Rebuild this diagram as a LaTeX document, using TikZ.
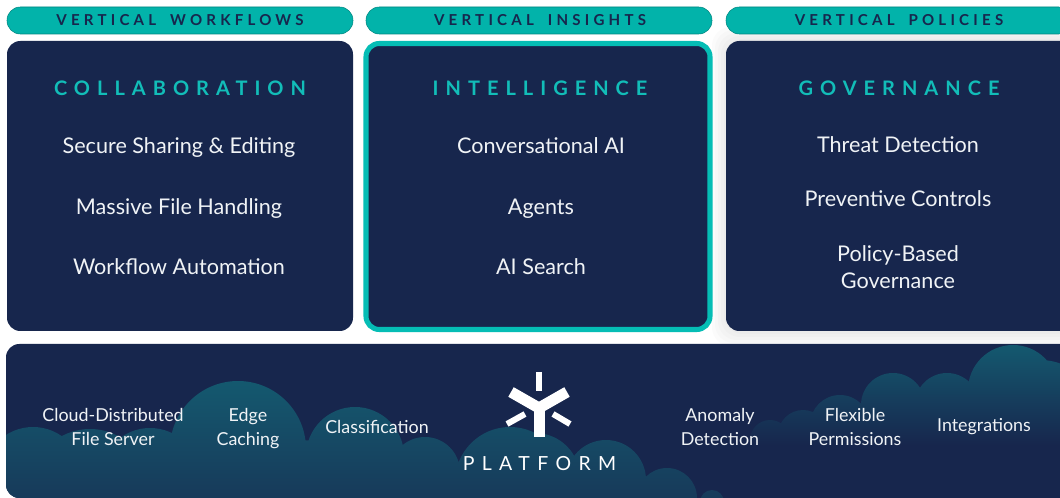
\documentclass[tikz,border=0pt]{standalone}
\usepackage{fontspec}
\setmainfont{Lato}
\definecolor{navy}{HTML}{17264D}
\definecolor{teal}{HTML}{05BDB5}
\definecolor{pill}{HTML}{02B3AA}
\definecolor{titlec}{HTML}{12BDB8}
\definecolor{cloudtop}{HTML}{14596F}
\definecolor{cloudbot}{HTML}{173A5A}
\definecolor{txt}{HTML}{F0F3F6}
\tikzset{
 pillbox/.style={fill=pill,rounded corners=10pt,draw=black!25!pill,line width=.4pt},
 panel/.style={fill=navy,rounded corners=10pt},
 pilltext/.style={text=navy,font=\fontsize{11.3pt}{12pt}\selectfont\bfseries\addfontfeature{LetterSpace=28}},
 titletext/.style={text=titlec,font=\fontsize{15pt}{18pt}\selectfont\bfseries\addfontfeature{LetterSpace=35}},
 item/.style={text=txt,align=center,font=\fontsize{16.2pt}{20.3pt}\selectfont},
 oneline/.style={item,text height=14.6pt,text depth=3.6pt},
 small/.style={text=txt,align=center,font=\fontsize{13.4pt}{18pt}\selectfont},
 logo/.style={draw=white,line cap=butt},
}
\begin{document}
\begin{tikzpicture}[x=.75pt,y=-.75pt]
\useasboundingbox (0,0) rectangle (1060,498);
\fill[white] (0,0) rectangle (1060,498);
% soft shadow
\foreach \o in {14,11,8,5,2}{
 \fill[black,opacity=.014,rounded corners=14pt] (726-\o,41-\o) rectangle (1085,332+\o);
}
\path[pillbox] (7,7) rectangle (353,34);
\path[pillbox] (366,7) rectangle (712,34);
\path[pillbox] (726,7) rectangle (1072,34);
\node[pilltext] (p1) at (180,20.5) {VERTICAL\hspace{.4em} WORKFLOWS};
\node[pilltext] (p2) at (540,20.5) {VERTICAL\hspace{.4em} INSIGHTS};
\node[pilltext] (p3) at (899,20.5) {VERTICAL\hspace{.4em} POLICIES};
\path[panel] (7,41) rectangle (353,331);
\path[panel,draw=teal,line width=3.8pt] (366,43.5) rectangle (710,329.5);
\path[panel] (726,41) rectangle (1075,331);
\node[titletext] (t1) at (180,88) {COLLABORATION};
\node[titletext] (t2) at (540,88) {INTELLIGENCE};
\node[titletext] (t3) at (899,88) {GOVERNANCE};
\node[oneline] (a1) at (179,146) {Secure Sharing \& Editing};
\node[oneline] (a2) at (179,207) {Massive File Handling};
\node[oneline] (a3) at (179,267) {Workflow Automation};
\node[oneline] (b1) at (541,146) {Conversational AI};
\node[oneline] (b2) at (541,207) {Agents};
\node[oneline] (b3) at (541,267) {AI Search};
\node[oneline] (c1) at (898,145) {Threat Detection};
\node[oneline] (c2) at (898,199) {Preventive Controls};
\node[item] (c3) at (898,267.5) {Policy-Based\\Governance};
% platform
\path[panel] (6,344) rectangle (1075,498);
\begin{scope}
\clip[rounded corners=10pt] (6,344) rectangle (1075,498);
\begin{scope}
\clip (33,477) circle[radius=50] (90,489) circle[radius=60] (150,478) circle[radius=50] (238,449) circle[radius=68] (355,456) circle[radius=49] (425,472) circle[radius=35] (510,482) circle[radius=55] (535,478) circle[radius=45] (606,480) circle[radius=40] (667,498) circle[radius=30] (712,502) circle[radius=12] (300,510) circle[radius=70] (150,520) circle[radius=80] (420,520) circle[radius=60] (560,520) circle[radius=60];
\shade[top color=cloudtop,middle color=cloudtop!92!cloudbot,bottom color=cloudbot] (0,380) rectangle (760,498);
\end{scope}
\begin{scope}
\clip (1013,390) circle[radius=45] (947,405) circle[radius=32] (893,405) circle[radius=32] (840,425) circle[radius=30] (803,435) circle[radius=25] (770,440) circle[radius=20] (1040,420) circle[radius=60] (950,460) circle[radius=60] (860,470) circle[radius=50];
\shade[top color=cloudtop,bottom color=navy] (750,345) rectangle (1075,445);
\end{scope}
\end{scope}
\node[small] (d1) at (113,427) {Cloud-Distributed\\File Server};
\node[small] (d2) at (248,428.5) {Edge\\Caching};
\node[small] (d3) at (377,427) {Classification};
\node[small] (d4) at (720,427) {Anomaly\\Detection};
\node[small] (d5) at (855,427) {Flexible\\Permissions};
\node[small] (d6) at (984,427) {Integrations};
\node[text=white,font=\fontsize{14.6pt}{16pt}\selectfont\addfontfeature{LetterSpace=38}] (pf) at (539.5,464) {PLATFORM};
% logo
\draw[logo,line width=8.25pt,miter limit=10] (511,392) -- (539,408) -- (567,392);
\draw[logo,line width=8.25pt] (539,404) -- (539,437);
\draw[logo,line width=4.5pt] (539,372) -- (539,391);
\draw[logo,line width=4.5pt] (507,424) -- (525,414);
\draw[logo,line width=4.5pt] (553,414) -- (570,424);
\end{tikzpicture}
\end{document}
